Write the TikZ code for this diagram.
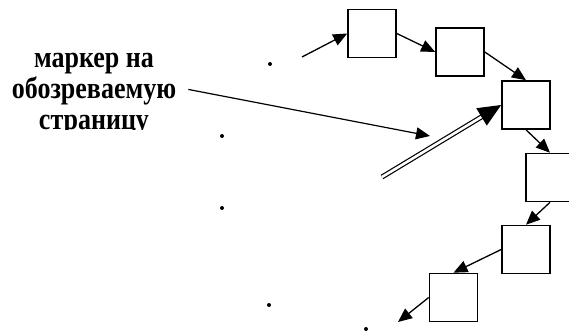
\documentclass[tikz,border=0pt]{standalone}
\usepackage{fontspec}
\setmainfont{Liberation Serif}
\usetikzlibrary{arrows.meta}

\begin{document}
\begin{tikzpicture}[x=1pt, y=-1pt,
    page/.style={draw, line width=1.6pt, minimum size=48pt, inner sep=0pt},
    link/.style={line width=1.3pt, -{Triangle[length=14pt, width=12pt]}},
    marker/.style={line width=1.2pt, double, double distance=2.6pt,
                   -{Triangle[length=23pt, width=20pt]}},
    gap/.style={fill=black}]
    \useasboundingbox (0,0) rectangle (569,336);

    \node[page] (A) at (372, 33.5) {};
    \node[page] (B) at (460, 52) {};
    \node[page] (C) at (526, 105) {};
    \node[page] (D) at (550, 177.5) {};
    \node[page] (E) at (526, 249.5) {};
    \node[page] (F) at (453.5, 297.5) {};

    \coordinate (in)  at (302, 57);
    \coordinate (out) at (398, 322);
    \coordinate (M)   at (382, 177);
    \coordinate (T)   at (430, 136);

    % text box is cut off at the bottom
    \begin{scope}
      \clip (0,0) rectangle (569,129.5);
      \begin{scope}[shift={(94,45.5)}, yscale=1.17]
        \node[transform shape, anchor=north, align=center, inner sep=6pt,
              font=\fontsize{26}{26.7}\selectfont\bfseries]
            (lbl) at (0,0) {маркер на\\обозреваемую\\страницу};
      \end{scope}
    \end{scope}

    \draw[link] (in) -- (A.west);
    \draw[link] (A.east) -- (B.west);
    \draw[link] (B.east) -- (C.north);
    \draw[link] (C.south) -- (D.north);
    \draw[link] (D.south) -- (E.north);
    \draw[link] (E.west) -- (F.north);
    \draw[link] (F.west) -- (out);

    \draw[marker] (M) -- (C.west);
    \draw[link, line width=1.2pt] ([xshift=6pt, yshift=5pt]lbl.east) -- (T);

    % skipped pages
    \fill[gap] (270, 64) circle (2pt);
    \fill[gap] (222, 136) circle (2pt);
    \fill[gap] (222, 208) circle (2pt);
    \fill[gap] (269, 305) circle (2pt);
    \fill[gap] (366, 329) circle (2pt);
\end{tikzpicture}
\end{document}
